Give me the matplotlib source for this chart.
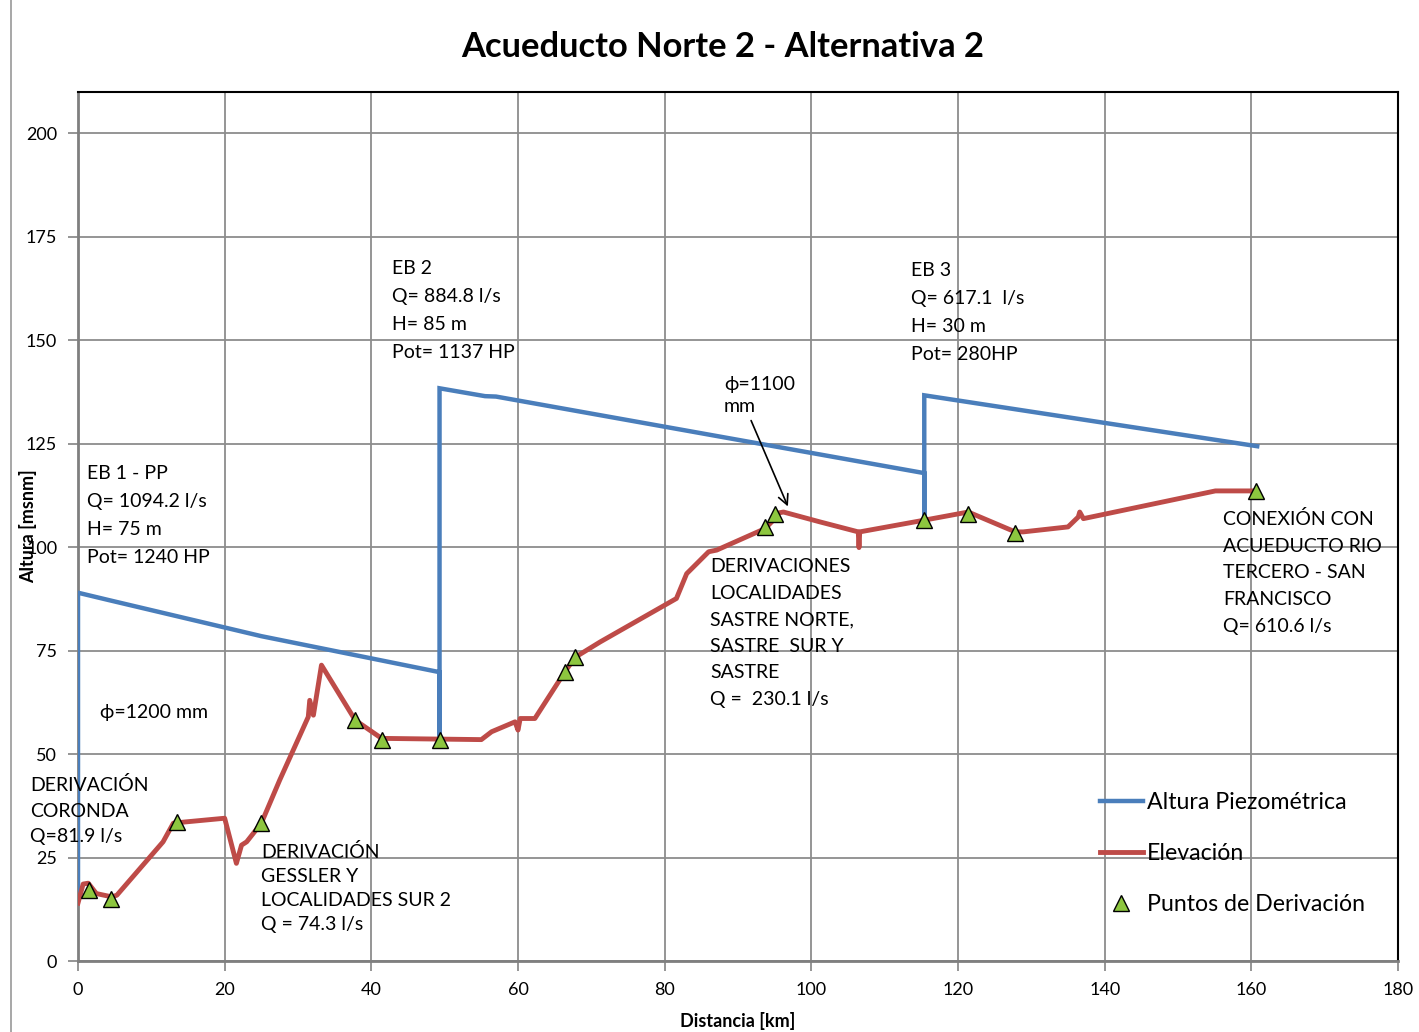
import matplotlib
matplotlib.use("Agg")
import matplotlib.pyplot as plt
from matplotlib.lines import Line2D

plt.rcParams['font.family'] = ['Lato', 'DejaVu Sans']

# ---- data ----
piezo_x = [0, 0, 4, 25, 49.3, 49.3, 49.3, 55.5, 57, 115.4, 115.4, 115.4, 160.8]
piezo_y = [17, 89, 87.3, 78.5, 69.8, 53.5, 138.4, 136.5, 136.4, 117.9, 106.5, 136.7, 124.4]

elev_x = [0, 0.7, 1.4, 2.5, 4.6, 5.3, 11.6, 13.0, 14.6, 20.0, 21.6, 22.3, 23.0, 25.0,
          27.5, 31.4, 31.6, 32.1, 33.2, 37.8, 41.4, 55.0, 56.4, 59.6, 60.0, 60.3, 62.3,
          66.4, 67.8, 71.2, 81.6, 83.0, 86.0, 87.1, 93.7, 94.8, 95.0, 96.2, 101.2, 106.4,
          106.5, 106.6, 115.3, 121.4, 127.8, 128.9, 135.0, 136.4, 136.6, 137.1, 155.1, 160.7]
elev_y = [14.0, 18.6, 18.8, 16.3, 15.5, 15.9, 28.8, 33.3, 33.6, 34.5, 23.6, 28.0, 28.8, 33.3,
          43.7, 59.0, 63.0, 59.4, 71.5, 58.2, 53.8, 53.5, 55.4, 57.8, 55.8, 58.6, 58.6,
          69.9, 73.4, 77.1, 87.6, 93.6, 98.9, 99.3, 104.5, 106.5, 108.1, 108.5, 106.1, 103.7,
          99.9, 103.7, 106.5, 108.5, 103.7, 103.7, 104.9, 107.3, 108.5, 106.9, 113.6, 113.6]

deriv_x = [1.5, 4.5, 13.5, 25.0, 37.8, 41.4, 49.4, 66.4, 67.8, 93.7, 95.0, 115.3, 121.4, 127.8, 160.7]
deriv_y = [17.1, 15.1, 33.6, 33.3, 58.2, 53.5, 53.4, 69.9, 73.4, 104.9, 108.1, 106.5, 108.0, 103.5, 113.5]

x_ticks = [0, 20, 40, 60, 80, 100, 120, 140, 160, 180]
y_ticks = [0, 25, 50, 75, 100, 125, 150, 175, 200]

W, H = 1419, 1032
fig = plt.figure(figsize=(W / 100, H / 100), dpi=100)
ax = fig.add_axes([78 / W, (H - 961) / H, 1320 / W, 869 / H])

blue = '#4A7EBB'
red = '#BE4B48'
green = '#8DC63F'

ax.plot(piezo_x, piezo_y, color=blue, lw=3.2, solid_joinstyle='miter', zorder=3)
ax.plot(elev_x, elev_y, color=red, lw=3.5, solid_joinstyle='round', zorder=3)
ax.plot(deriv_x, deriv_y, linestyle='none', marker='^', ms=12, mfc=green, mec='black',
        mew=1.0, zorder=4)

ax.set_xlim(0, 180)
ax.set_ylim(0, 210)
ax.set_xticks(x_ticks)
ax.set_yticks(y_ticks)
ax.grid(True, color='#8C8C8C', lw=1.3, zorder=0)
ax.set_axisbelow(True)
ax.tick_params(axis='both', direction='out', length=7, width=1.3, color='#8C8C8C',
               labelsize=13, pad=8)
for s in ['left', 'bottom']:
    ax.spines[s].set_color('#7F7F7F')
    ax.spines[s].set_linewidth(2)
for s in ['top', 'right']:
    ax.spines[s].set_color('black')
    ax.spines[s].set_linewidth(1.5)

ax.set_xlabel('Distancia [km]', fontsize=13, fontweight='bold', labelpad=10)
ax.set_ylabel('Altura [msnm]', fontsize=13, fontweight='bold', labelpad=-8)

fig.text(723 / W, 1 - 47 / H, 'Acueducto Norte 2 - Alternativa 2', ha='center',
         va='center', fontsize=24.8, fontweight='bold')

def px2data(px, py):
    return ((px - 78) / 1320 * 180, (961 - py) / 869 * 210)

def block(px, py, txt, spacing=1.55):
    x, y = px2data(px, py)
    ax.text(x, y, txt, fontsize=14, ha='left', va='top', linespacing=spacing, zorder=5)

block(87, 465, 'EB 1 - PP\nQ= 1094.2 l/s\nH= 75 m\nPot= 1240 HP', 1.78)
block(100, 704, 'ϕ=1200 mm')
block(30, 776, 'DERIVACIÓN\nCORONDA\nQ=81.9 l/s', 1.61)
block(261, 843, 'DERIVACIÓN\nGESSLER Y\nLOCALIDADES SUR 2\nQ = 74.3 l/s', 1.49)
block(392, 260, 'EB 2\nQ= 884.8 l/s\nH= 85 m\nPot= 1137 HP', 1.78)
block(724, 376, 'ϕ=1100\nmm', 1.36)
block(911, 262, 'EB 3\nQ= 617.1  l/s\nH= 30 m\nPot= 280HP', 1.78)
block(710, 558, 'DERIVACIONES\nLOCALIDADES\nSASTRE NORTE,\nSASTRE  SUR Y\nSASTRE\nQ =  230.1 l/s', 1.685)
block(1223, 510, 'CONEXIÓN CON\nACUEDUCTO RIO\nTERCERO - SAN\nFRANCISCO\nQ= 610.6 l/s', 1.69)

ax.annotate('', xy=px2data(789, 509), xytext=px2data(750, 418),
            arrowprops=dict(arrowstyle='->', color='black', lw=1.2, mutation_scale=18))

handles = [Line2D([], [], color=blue, lw=3.2),
           Line2D([], [], color=red, lw=3.5),
           Line2D([], [], linestyle='none', marker='^', ms=12, mfc=green, mec='black', mew=1.0)]
labels = ['Altura Piezométrica', 'Elevación', 'Puntos de Derivación']
ax.legend(handles, labels, loc='upper left',
          bbox_to_anchor=((1100 - 78) / 1320, (961 - 792) / 869),
          frameon=False, fontsize=16.7, handlelength=1.85, handletextpad=0.17,
          labelspacing=1.3, borderaxespad=0, borderpad=0)

fig.add_artist(Line2D([11 / W, 11 / W], [0, 1], transform=fig.transFigure,
                      color='#A0A0A0', lw=1.3))

fig.savefig('out.png', dpi=100)
